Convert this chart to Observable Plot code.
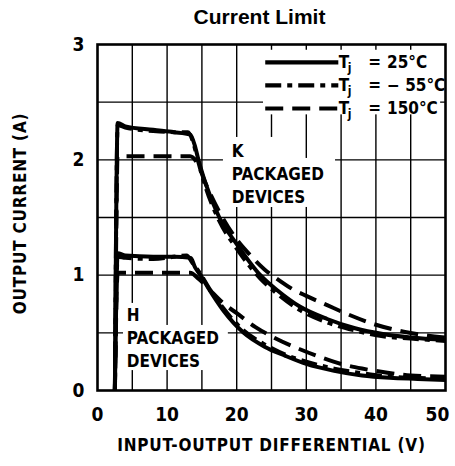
<!DOCTYPE html>
<html>
<head>
<meta charset="utf-8">
<script src="https://cdn.jsdelivr.net/npm/d3@7"></script>
<script src="https://cdn.jsdelivr.net/npm/@observablehq/plot@0.6"></script>
<style>
  html, body { margin: 0; padding: 0; background: #fff; }
  .axis-title { letter-spacing: 0.8px; }
</style>
</head>
<body>
<div id="chart"></div>
<script>
// ---- data ----
const temps = ["25°C", "−55°C", "150°C"];
const xTicks = [0, 10, 20, 30, 40];
const xTickLast = [50];
const yTicks = [0, 1, 2, 3];

// K packaged devices
const kV25  = [2.5, 2.9, 4, 8, 11, 13.3, 14, 14.5, 15.5, 17.5, 20, 23.4, 26, 29, 33, 37, 41, 45, 50];
const kI25  = [0, 2.32, 2.29, 2.26, 2.24, 2.22, 2.12, 2.0, 1.8, 1.5, 1.27, 1.0, 0.86, 0.73, 0.62, 0.54, 0.49, 0.46, 0.44];
const kVm55 = [2.5, 2.9, 4, 8, 11, 13.0, 13.8, 14.4, 15.5, 17.5, 20, 23.4, 26, 29, 33, 37, 41, 45, 50];
const kIm55 = [0, 2.30, 2.28, 2.25, 2.24, 2.24, 2.14, 2.0, 1.77, 1.47, 1.23, 0.97, 0.83, 0.70, 0.59, 0.52, 0.47, 0.45, 0.43];
const kV150 = [2.5, 2.9, 8, 13.3, 14.5, 15.5, 17.5, 20, 22, 24, 26, 28, 30, 33, 36, 40, 44, 47, 50];
const kI150 = [0, 2.03, 2.03, 2.03, 1.95, 1.8, 1.55, 1.31, 1.17, 1.05, 0.96, 0.88, 0.82, 0.74, 0.66, 0.57, 0.51, 0.48, 0.46];

// H packaged devices
const hV25  = [2.5, 2.9, 4, 8, 11, 13.4, 14, 14.8, 16, 18, 21, 24, 27, 30, 34, 38, 42, 46, 50];
const hI25  = [0, 1.19, 1.17, 1.16, 1.16, 1.15, 1.07, 1.0, 0.88, 0.7, 0.5, 0.38, 0.3, 0.23, 0.17, 0.13, 0.11, 0.1, 0.09];
const hVm55 = [2.5, 2.9, 4, 8, 12.8, 13.6, 14.8, 16, 18, 21, 24, 27, 30, 34, 38, 42, 46, 50];
const hIm55 = [0, 1.16, 1.15, 1.14, 1.17, 1.11, 1.01, 0.89, 0.72, 0.52, 0.4, 0.31, 0.25, 0.19, 0.15, 0.12, 0.11, 0.1];
const hV150 = [2.5, 2.9, 8, 13.3, 14.5, 16, 18, 20, 22.7, 25.3, 29, 32, 35, 38, 41, 45, 50];
const hI150 = [0, 1.02, 1.02, 1.02, 0.97, 0.88, 0.76, 0.67, 0.55, 0.46, 0.36, 0.29, 0.23, 0.19, 0.16, 0.13, 0.12];

const kLabel = ["K", "PACKAGED", "DEVICES"];
const hLabel = ["H", "PACKAGED", "DEVICES"];

// ---- build table ----
function series(vs, is, temp, pkg) {
  return vs.map((v, k) => ({v, i: is[k], temp, pkg}));
}
const rows = [
  ...series(kV25, kI25, temps[0], "K"),
  ...series(kVm55, kIm55, temps[1], "K"),
  ...series(kV150, kI150, temps[2], "K"),
  ...series(hV25, hI25, temps[0], "H"),
  ...series(hVm55, hIm55, temps[1], "H"),
  ...series(hV150, hI150, temps[2], "H")
];

// ---- styles ----
const cond = "'DejaVu Sans Condensed', 'Liberation Sans Narrow', 'DejaVu Sans', sans-serif";
const dash = {"25°C": undefined, "−55°C": "16,6,5,6", "150°C": "18,9"};
const lw = 4;

const legendY = (k) => 2.845 - 0.2 * k;

const chart = Plot.plot({
  width: 455,
  height: 466,
  marginTop: 44,
  marginRight: 10,
  marginBottom: 76,
  marginLeft: 97,
  style: {fontFamily: cond, fontWeight: "bold", color: "black", background: "white", fontStretch: "condensed"},
  x: {domain: [0, 50]},
  y: {domain: [0, 3]},
  marks: [
    Plot.gridX(d3.range(5, 50, 5), {stroke: "black", strokeOpacity: 1, strokeWidth: 1.4}),
    Plot.gridY(d3.range(0.5, 3, 0.5), {stroke: "black", strokeOpacity: 1, strokeWidth: 1.4}),
    // white boxes behind annotations and legend
    Plot.rect([0], {x1: 18.1, x2: 27.7, y1: 1.587, y2: 2.194, fill: "white"}),
    Plot.rect([0], {x1: 18.1, x2: 34.2, y1: 1.587, y2: 2.012, fill: "white"}),
    Plot.rect([0], {x1: 3.74, x2: 7.6, y1: 0.173, y2: 0.755, fill: "white"}),
    Plot.rect([0], {x1: 3.74, x2: 18.8, y1: 0.173, y2: 0.564, fill: "white"}),
    Plot.rect([0], {x1: 23.85, x2: 49.3, y1: 2.39, y2: 2.95, fill: "white"}),
    Plot.frame({stroke: "black", strokeWidth: 2.6}),
    Plot.axisX({ticks: xTicks, tickSize: 0, tickPadding: 17, label: null, fontSize: 19, fontWeight: "bold", tickFormat: "d"}),
    Plot.axisX({ticks: xTickLast, tickSize: 0, tickPadding: 17, label: null, fontSize: 19, fontWeight: "bold", tickFormat: "d", dx: -8}),
    Plot.axisY({ticks: yTicks, tickSize: 0, tickPadding: 13, label: null, fontSize: 19, fontWeight: "bold", tickFormat: "d"}),
    // curves
    ...temps.map(t => Plot.line(rows.filter(d => d.temp === t), {
      x: "v", y: "i", z: "pkg", stroke: "black", strokeWidth: lw,
      strokeDasharray: dash[t], curve: "monotone-x", strokeLinecap: "butt"
    })),
    // annotations
    Plot.text(kLabel, {x: 19.3, y: (d, k) => 2.07 - 0.2 * k, text: d => d, textAnchor: "start", fontSize: 17, fontWeight: "bold", fontFamily: cond}),
    Plot.text(hLabel, {x: 4.2, y: (d, k) => 0.65 - 0.2 * k, text: d => d, textAnchor: "start", fontSize: 17, fontWeight: "bold", fontFamily: cond}),
    // legend
    ...temps.map((t, k) => Plot.link([t], {x1: 24.1, x2: 34.6, y1: legendY(k), y2: legendY(k), stroke: "black", strokeWidth: 4.2, strokeDasharray: dash[t], strokeLinecap: "butt"})),
    Plot.text(temps, {x: 34.65, y: (d, k) => legendY(k), text: () => "T", textAnchor: "start", fontSize: 17, fontWeight: "bold", fontFamily: cond}),
    Plot.text(temps, {x: 35.95, y: (d, k) => legendY(k), text: () => "j", dy: 6, textAnchor: "start", fontSize: 12, fontWeight: "bold", fontFamily: cond}),
    Plot.text(temps, {x: 38.9, y: (d, k) => legendY(k), text: () => "=", textAnchor: "start", fontSize: 17, fontWeight: "bold", fontFamily: cond}),
    Plot.text(temps, {x: 41.6, y: (d, k) => legendY(k), text: d => d.replace("−", "− "), textAnchor: "start", fontSize: 17, fontWeight: "bold", fontFamily: cond}),
    // titles
    Plot.text(["Current Limit"], {frameAnchor: "top", lineAnchor: "middle", dx: -12, dy: -27, text: d => d, fontSize: 21, fontWeight: "bold", fontFamily: "'Liberation Sans', Arial, sans-serif"}),
    Plot.text(["INPUT-OUTPUT DIFFERENTIAL (V)"], {frameAnchor: "bottom", lineAnchor: "middle", dy: 55, text: d => d, fontSize: 17, fontWeight: "bold", fontFamily: cond, className: "axis-title"}),
    Plot.text(["OUTPUT CURRENT (A)"], {frameAnchor: "left", textAnchor: "middle", lineAnchor: "middle", dx: -77, dy: -4, rotate: -90, text: d => d, fontSize: 17, fontWeight: "bold", fontFamily: cond, className: "axis-title"})
  ]
});
document.getElementById("chart").appendChild(chart);
</script>
</body>
</html>
